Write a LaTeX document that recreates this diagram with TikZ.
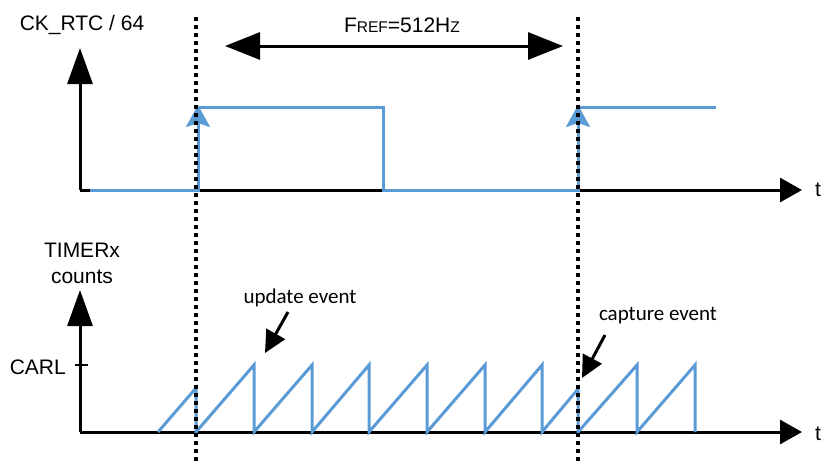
\documentclass[tikz,border=0pt]{standalone}
\usepackage{fontspec}
\setmainfont{Liberation Sans}
\newfontfamily\calfont{Carlito}
\usetikzlibrary{arrows.meta}
\definecolor{sigblue}{RGB}{91,155,213}
\begin{document}
\begin{tikzpicture}[x=1pt,y=-1pt,
  axis/.style={line width=3pt,-{Triangle[length=22pt,width=24pt]}},
  yaxis/.style={line width=3pt,-{Triangle[length=36pt,width=25pt]}},
  sig/.style={line width=3pt,sigblue,line join=miter},
  edgearrow/.style={line width=3pt,sigblue,-{Stealth[length=22pt,width=24pt,inset=4pt]}},
  marker/.style={line width=3.5pt,dash pattern=on 4pt off 4pt},
  lbl/.style={font=\fontsize{21}{24}\selectfont,inner sep=0pt},
  evlbl/.style={font=\calfont\fontsize{21}{24}\selectfont,inner sep=0pt},
  evarrow/.style={line width=3pt,-{Triangle[length=22pt,width=21pt]}},
  span/.style={line width=3pt,{Triangle[length=35pt,width=27pt]}-{Triangle[length=35pt,width=27pt]}}]
\useasboundingbox (0,0) rectangle (824,464);
% coordinates
\coordinate (o1) at (80,190);
\coordinate (y1) at (80,48);
\coordinate (x1) at (802,190);
\coordinate (o2) at (80,432);
\coordinate (y2) at (80,290);
\coordinate (x2) at (802,432);
\coordinate (m1t) at (196,17);
\coordinate (m1b) at (196,464);
\coordinate (m2t) at (578,17);
\coordinate (m2b) at (578,464);
\coordinate (fa) at (225,46);
\coordinate (fb) at (563,46);
\coordinate (e1a) at (198,190);
\coordinate (e1b) at (198,105);
\coordinate (e2a) at (578,190);
\coordinate (e2b) at (578,105);
\coordinate (ua) at (288,312);
\coordinate (ub) at (265,353);
\coordinate (ca) at (605,335);
\coordinate (cb) at (582,378);
% labels
\node[lbl] (ck) at (82,25) {CK\_RTC / 64};
\node[lbl] (fref) at (402,25) {F{\fontsize{15.5}{18}\selectfont REF}=512H{\fontsize{15.5}{18}\selectfont Z}};
\node[lbl] (t1) at (818,190) {t};
\node[lbl] (t2) at (818,434) {t};
\node[lbl] (timer) at (82,250) {TIMERx};
\node[lbl] (counts) at (82,277) {counts};
\node[lbl,anchor=east] (carl) at (66,367) {CARL};
\node[evlbl] (upd) at (300,298) {update event};
\node[evlbl] (cap) at (658,316) {capture event};
% axes
\draw[yaxis] (o1) -- (y1);
\draw[axis] (o1) -- (x1);
\draw[yaxis] (o2) -- (y2);
\draw[axis] (o2) -- (x2);
\draw[line width=2.5pt] (75,365) -- (88,365);
% top signal
\draw[sig] (90,190) -- (198,190) -- (198,107) -- (383,107) -- (383,190) -- (578,190) -- (578,107) -- (716,107);
\draw[edgearrow] (e1a) -- (e1b);
\draw[edgearrow] (e2a) -- (e2b);
% sawtooth
\draw[sig] (158,432) -- (196,388) -- (196,432)
  -- (254,365) -- (254,432) -- (312,365) -- (312,432)
  -- (369,365) -- (369,432) -- (427,365) -- (427,432)
  -- (485,365) -- (485,432) -- (542,365) -- (542,432)
  -- (578,389) -- (578,432) -- (637,365) -- (637,432)
  -- (695,365) -- (695,432);
% markers
\draw[marker] (m1t) -- (m1b);
\draw[marker] (m2t) -- (m2b);
% span arrow
\draw[span] (fa) -- (fb);
% event arrows
\draw[evarrow] (ua) -- (ub);
\draw[evarrow] (ca) -- (cb);
\end{tikzpicture}
\end{document}
